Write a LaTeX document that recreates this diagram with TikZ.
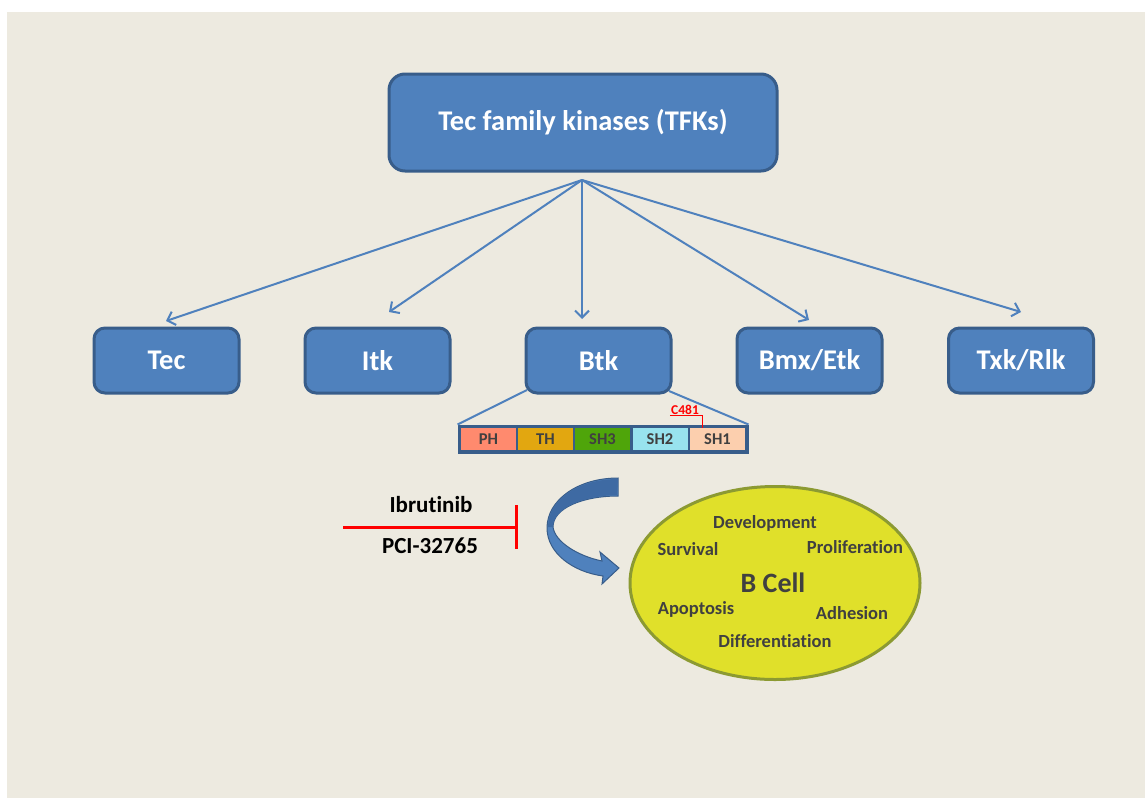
\documentclass[tikz,border=0pt]{standalone}
\usepackage{fontspec}
\setmainfont{Carlito}[RawFeature=-liga]
\usetikzlibrary{arrows.meta,shapes.geometric}
\definecolor{bg}{HTML}{EDEAE0}
\definecolor{boxfill}{HTML}{4F81BD}
\definecolor{boxline}{HTML}{385D8A}
\definecolor{txtgray}{HTML}{404040}
\definecolor{cellfill}{HTML}{E0E02A}
\definecolor{cellline}{HTML}{8C9A32}
\definecolor{phc}{HTML}{FF8A6E}
\definecolor{thc}{HTML}{E2A710}
\definecolor{shthree}{HTML}{4FA50A}
\definecolor{shtwo}{HTML}{98E3EE}
\definecolor{shone}{HTML}{FCCFAE}
\definecolor{arrdark}{HTML}{3E6AA3}
\tikzset{
  bigbox/.style={draw=boxline, fill=boxfill, line width=3pt, rounded corners=16pt,
    minimum width=388pt, minimum height=97pt, text=white,
    font=\fontsize{28.5}{32}\selectfont\bfseries},
  kbox/.style={draw=boxline, fill=boxfill, line width=3pt, rounded corners=11pt,
    minimum width=145pt, minimum height=65pt, text=white,
    font=\fontsize{28.5}{32}\selectfont\bfseries},
  conn/.style={draw=boxfill, line width=2pt, -{Straight Barb[length=7pt,width=14pt,line width=2pt]}},
  zoomline/.style={draw=boxfill, line width=2pt},
  dom/.style={minimum width=55pt, minimum height=22pt, inner sep=0pt, text=txtgray,
    font=\fontsize{16.5}{18}\selectfont\bfseries},
  celltxt/.style={text=txtgray, font=\fontsize{18.5}{20}\selectfont\bfseries},
  drug/.style={text=black, font=\fontsize{23}{26}\selectfont\bfseries},
}
\begin{document}
\begin{tikzpicture}[x=1pt,y=-1pt]
\useasboundingbox (0,0) rectangle (1145,798);
\fill[white] (0,0) rectangle (1145,798);
\fill[bg] (7,12) rectangle (1145,798);

% top box
\node[bigbox] (tfk) at (583,122.5) {Tec family kinases (TFKs)};
\coordinate (hub) at (582,180);

% kinase boxes
\node[kbox] (tec) at (166.5,360.5) {Tec};
\node[kbox] (itk) at (377.5,360.5) {Itk};
\node[kbox] (btk) at (598.5,360.5) {Btk};
\node[kbox] (bmx) at (809.5,360.5) {Bmx/Etk};
\node[kbox] (txk) at (1021,360.5) {Txk/Rlk};

\coordinate (ttec) at (166,321);
\coordinate (titk) at (389,312);
\coordinate (tbtk) at (582,319);
\coordinate (tbmx) at (809,320);
\coordinate (ttxk) at (1021,312);
\draw[conn] (hub) -- (ttec);
\draw[conn] (hub) -- (titk);
\draw[conn] (hub) -- (tbtk);
\draw[conn] (hub) -- (tbmx);
\draw[conn] (hub) -- (ttxk);

% domain bar
\node[draw=boxline, fill=boxline, line width=1pt, minimum width=290pt, minimum height=28pt, inner sep=0pt] (bar) at (603,439) {};
\coordinate (bl) at (527,390);
\coordinate (br) at (669,391);
\draw[zoomline] (bl) -- (bar.north west);
\draw[zoomline] (br) -- (bar.north east);
\node[dom, fill=phc] (ph) at (488.5,439) {PH};
\node[dom, fill=thc] (th) at (545.5,439) {TH};
\node[dom, fill=shthree] (sh3) at (602.5,439) {SH3};
\node[dom, fill=shtwo] (sh2) at (660,439) {SH2};
\node[dom, fill=shone] (sh1) at (717.5,439) {SH1};

% C481
\node[text=red, font=\fontsize{13.5}{15}\selectfont\bfseries, inner sep=1pt] (c481) at (685,410) {C481};
\coordinate (cu) at (702,418);
\draw[red, line width=1pt] (c481.south west) -- (c481.south west -| cu) -- (sh1.north -| cu);

% inhibitor
\node[drug] (ibr) at (431,505) {Ibrutinib};
\node[drug] (pci) at (430,546) {PCI-32765};
\coordinate (istart) at (343,527);
\coordinate (iend) at (516,527);
\draw[red, line width=3pt] (istart) -- (iend);
\draw[red, line width=3pt] (516,505) -- (516,549);

% curved arrow
\fill[boxfill, draw=boxline, line width=1pt]
  (618,478) .. controls (578,478) and (547,500) .. (547,528)
  .. controls (547,553) and (573,572) .. (603,576)
  -- (602,584) -- (619,568) -- (600,552) -- (602,561)
  .. controls (578,556) and (555,542) .. (553,527)
  .. controls (553,508) and (583,496) .. (618,496) -- cycle;
\fill[arrdark]
  (618,479) .. controls (578,479) and (548,500) .. (548,527)
  -- (553,527) .. controls (553,508) and (583,496) .. (617,495) -- cycle;

% B cell
\node[draw=cellline, fill=cellfill, line width=3pt, ellipse, minimum width=290pt, minimum height=193pt] (cell) at (775,583) {};
\node[text=txtgray, font=\fontsize{28}{32}\selectfont\bfseries] (bc) at (773,583) {B Cell};
\node[celltxt] (dev) at (765,523) {Development};
\node[celltxt] (sur) at (688,549) {Survival};
\node[celltxt] (pro) at (855,547) {Proliferation};
\node[celltxt] (apo) at (696,609) {Apoptosis};
\node[celltxt] (adh) at (852,613) {Adhesion};
\node[celltxt] (dif) at (775,641) {Differentiation};
\end{tikzpicture}
\end{document}
